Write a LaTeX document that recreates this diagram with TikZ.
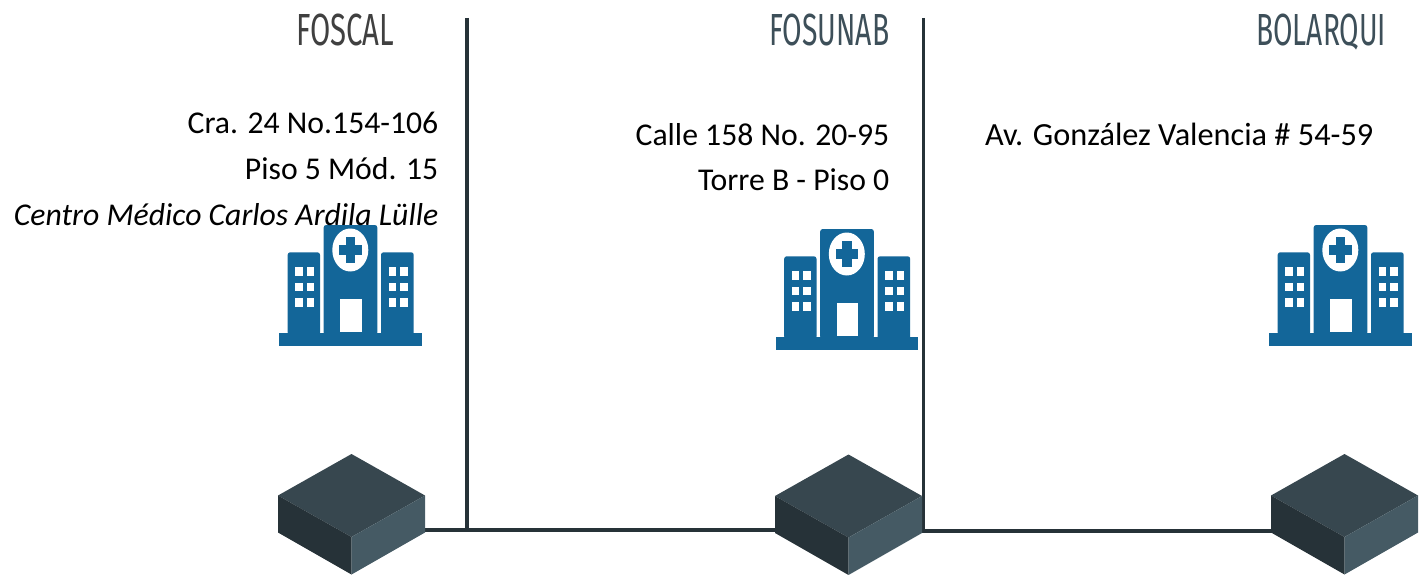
\documentclass[tikz,border=0pt]{standalone}
\usepackage{fontspec}
\usepackage{graphicx}
\setmainfont{Carlito}
\newfontfamily\titlefont{Fira Sans}
\newcommand{\ttltext}[2]{\resizebox{#1}{31pt}{\titlefont\rule{0pt}{.689em}\smash{#2}}}
\definecolor{iconblue}{HTML}{136699}
\definecolor{cubetop}{HTML}{37474F}
\definecolor{cubeleft}{HTML}{263238}
\definecolor{cuberight}{HTML}{455A64}
\definecolor{linedark}{HTML}{263238}
\definecolor{titlegrey}{HTML}{404040}
\definecolor{titleslate}{HTML}{3D4F59}
\tikzset{
  wire/.style={draw=linedark,line width=3.6pt},
  addr/.style={anchor=base east,inner sep=0pt,font=\fontsize{31.7}{34}\selectfont,text=black},
  ttl/.style={anchor=south west,inner sep=0pt},
  hospital/.pic={
    \fill[iconblue] (0,107.7) rectangle (142.5,120.7);
    \fill[iconblue,rounded corners=2.5pt] (44.7,110) -- (44.7,0) -- (98.3,0) -- (98.3,110) -- cycle;
    \fill[iconblue,rounded corners=2.5pt] (8.7,110) -- (8.7,27.3) -- (41,27.3) -- (41,110) -- cycle;
    \fill[iconblue,rounded corners=2.5pt] (102,110) -- (102,27.3) -- (134.7,27.3) -- (134.7,110) -- cycle;
    \fill[white] (71.3,25) ellipse [x radius=18,y radius=21.5];
    \fill[iconblue] (66.6,11.7) rectangle (76,38.3);
    \fill[iconblue] (60,20) rectangle (82.7,30);
    \fill[white] (61.3,74) rectangle (82.7,106.7);
    \foreach \wy in {42.3,57.7,73.3}{
      \foreach \wx in {16.3,27.7,109.7,121.3}{
        \fill[white] (\wx,\wy) rectangle ++(7.4,8.7);
      }
    }
  },
  cube/.pic={
    \fill[cubetop] (0,-41.5) -- (73.5,0) -- (147,-41.5) -- (73.5,-83) -- cycle;
    \fill[cubeleft] (0,-41.5) -- (73.5,0) -- (73.5,37.5) -- (0,-4.5) -- cycle;
    \fill[cuberight] (147,-41.5) -- (73.5,0) -- (73.5,37.5) -- (147,-4.5) -- cycle;
  }
}
\begin{document}
\begin{tikzpicture}[x=1pt,y=-1pt]
\useasboundingbox (0,0) rectangle (1421,575);
% anchors
\coordinate (vtopA) at (467,18);
\coordinate (vbotA) at (467,530);
\coordinate (vtopB) at (923.5,18);
\coordinate (vbotB) at (923.5,532.8);
\coordinate (cubeAr) at (425,530);
\coordinate (cubeBl) at (776,530);
\coordinate (cubeBr) at (921,531);
\coordinate (cubeCl) at (1272,531);
% connectors
\draw[wire] (vtopA) -- (vbotA);
\draw[wire] (vtopB) -- (vbotB);
\draw[wire] (cubeAr) -- (cubeBl);
\draw[wire] (cubeBr) -- (cubeCl);
% cubes
\pic at (278,537) {cube};
\pic at (775,537.5) {cube};
\pic at (1271,537) {cube};
% hospitals
\pic at (279,225) {hospital};
\pic at (775.5,229) {hospital};
\pic at (1269,225) {hospital};
% titles
\node[ttl,text=titlegrey] (t1) at (296,46) {\ttltext{98pt}{FOSCAL}};
\node[ttl,text=titleslate] (t2) at (769,46) {\ttltext{120pt}{FOSUNAB}};
\node[ttl,text=titleslate] (t3) at (1256,46) {\ttltext{130pt}{BOLARQUI}};
% addresses
\node[addr] (a1) at (438.5,134) {Cra. 24 No.154-106};
\node[addr] (a2) at (438.5,179) {Piso 5 Mód. 15};
\node[addr] (a3) at (438.5,225) {\itshape Centro Médico Carlos Ardila Lülle};
\node[addr] (b1) at (889.5,146) {Calle 158 No. 20-95};
\node[addr] (b2) at (889.5,190) {Torre B - Piso 0};
\node[addr,font=\fontsize{32.3}{34}\selectfont] (c1) at (1373.5,146) {Av. González Valencia \# 54-59};
\end{tikzpicture}
\end{document}
